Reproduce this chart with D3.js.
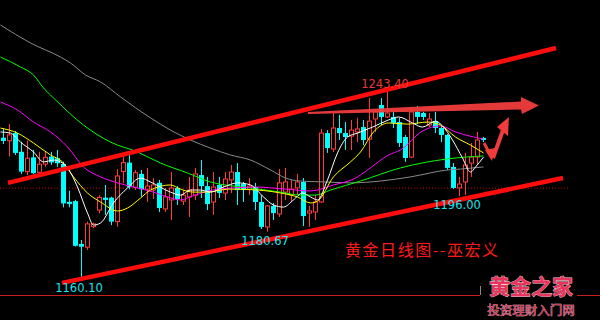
<!DOCTYPE html>
<html><head><meta charset="utf-8">
<script src="https://cdn.jsdelivr.net/npm/d3@7"></script>
<style>html,body{margin:0;padding:0;background:#000;overflow:hidden}</style>
</head><body><svg id="c" width="600" height="320"></svg>
<script>
// ---- Daily gold candles (index 0..80) ----
const opens  = [1221.4,1220.1,1223.4,1215.3,1206.7,1212.9,1206.4,1210.0,1213.2,1212.5,
  1210.0,1193.6,1193.9,1175.3,1173.9,1182.8,1190.0,1195.4,1195.4,1185.0,
  1206.7,1210.6,1199.9,1205.7,1199.1,1198.7,1201.8,1190.5,1194.4,1199.6,
  1193.9,1195.7,1196.5,1205.2,1200.4,1193.5,1200.9,1197.4,1203.1,1206.5,
  1201.3,1199.1,1200.0,1193.5,1182.7,1191.8,1188.3,1197.8,1196.5,1199.6,
  1202.2,1188.7,1189.2,1193.5,1223.4,1216.5,1225.6,1223.4,1222.1,1223.9,
  1226.0,1220.8,1229.5,1235.6,1230.4,1230.4,1228.2,1221.7,1213.0,1232.6,
  1232.1,1226.9,1228.6,1225.6,1222.6,1208.7,1199.6,1202.2,1210.4,1213.0,1221.3];
const highs  = [1225.2,1227.3,1224.3,1219.7,1220.1,1216.1,1215.3,1215.3,1215.3,1216.1,
  1211.0,1198.4,1194.4,1177.0,1185.0,1184.5,1196.5,1200.9,1195.8,1207.7,
  1213.9,1213.9,1207.4,1207.4,1208.3,1203.9,1203.1,1199.6,1206.5,1200.4,
  1198.7,1204.4,1208.3,1211.7,1204.4,1206.5,1204.4,1206.5,1209.6,1210.4,
  1202.2,1203.9,1201.8,1196.5,1192.2,1193.1,1207.8,1208.3,1203.1,1205.7,
  1203.9,1191.8,1196.5,1225.2,1224.7,1232.1,1231.3,1228.2,1229.1,1230.0,
  1229.1,1238.6,1233.4,1238.6,1243.4,1232.6,1230.0,1222.6,1234.7,1235.2,
  1232.6,1232.1,1232.6,1226.5,1223.0,1210.4,1204.4,1214.8,1219.1,1223.9,1221.7];
const lows   = [1218.7,1213.2,1213.9,1205.7,1205.2,1205.7,1205.2,1208.8,1209.6,1208.8,
  1191.2,1191.2,1174.2,1160.1,1172.7,1182.1,1188.6,1187.9,1183.5,1182.8,
  1201.6,1199.0,1198.7,1195.8,1193.5,1194.8,1189.2,1189.2,1185.7,1192.2,
  1192.2,1187.0,1194.4,1195.2,1190.0,1187.9,1195.2,1194.4,1197.4,1192.2,
  1193.5,1196.5,1190.0,1181.8,1180.67,1185.7,1187.0,1194.4,1193.5,1196.5,
  1183.1,1182.7,1185.7,1193.1,1214.8,1215.2,1220.4,1216.1,1216.1,1219.5,
  1218.2,1212.6,1223.9,1226.9,1230.0,1225.6,1217.4,1210.9,1212.6,1227.3,
  1229.1,1226.0,1223.4,1219.5,1207.4,1199.2,1196.0,1196.5,1204.4,1209.6,1219.5];
const closes = [1220.0,1222.6,1214.8,1206.7,1212.5,1206.0,1209.9,1212.9,1210.7,1210.3,
  1192.9,1192.6,1174.5,1174.1,1184.0,1184.0,1195.5,1194.4,1185.0,1204.8,
  1210.6,1199.9,1206.2,1199.0,1200.4,1200.9,1190.9,1195.7,1199.6,1194.8,
  1196.5,1198.7,1205.7,1200.4,1192.6,1200.0,1197.4,1203.5,1206.5,1198.7,
  1198.7,1200.4,1193.5,1182.7,1191.8,1188.7,1201.8,1202.2,1199.1,1202.2,
  1187.4,1189.6,1193.5,1223.4,1216.9,1225.6,1223.4,1221.7,1224.7,1225.2,
  1220.4,1228.6,1232.6,1230.4,1232.1,1227.8,1219.1,1212.6,1232.6,1230.4,
  1230.4,1229.5,1225.6,1222.6,1208.3,1199.6,1201.3,1209.6,1213.0,1220.4,1220.4];

// ---- moving averages: [candle index, price] ----
const maWhite = [[-0.5,1223.9],[1.17,1223.4],[2.83,1219.5],[5,1215.2],[6.67,1210.9],[8.33,1211.7],[9.5,1210.9],
  [10.67,1208.3],[12.33,1200.0],[14,1188.7],[15,1183.5],[16.17,1184.4],[18.33,1193.1],[20.67,1199.6],
  [22.83,1203.9],[24.5,1202.2],[27.83,1197.8],[29.5,1196.5],[31.17,1198.7],[32.83,1198.7],[34.5,1197.8],
  [36.67,1200.0],[39,1201.8],[41.17,1200.9],[43.33,1195.7],[45,1192.2],[46.67,1191.3],[48.33,1194.4],
  [49.83,1197.4],[51.17,1195.7],[52.33,1194.4],[54,1203.1],[55.67,1214.8],[57.33,1221.7],[59,1223.4],
  [61.5,1226.0],[64.17,1229.1],[65.83,1230.4],[68.17,1227.8],[69.83,1226.0],[72,1228.6],[73.17,1226.5],
  [74.83,1220.4],[76.5,1212.6],[77.83,1206.5],[78.67,1208.7],[80,1213.0]];
const maYellow = [[-0.5,1225.6],[2.33,1223.4],[5,1219.1],[7.83,1213.9],[9.83,1210.9],[11.67,1204.4],[14,1197.4],
  [16.17,1193.5],[19,1189.6],[20.67,1190.9],[22.83,1195.2],[24.5,1198.7],[27.83,1200.9],[29.5,1199.1],
  [31.67,1197.8],[34,1197.8],[37.5,1199.1],[42.33,1198.7],[46.17,1197.4],[49,1195.7],[51.17,1193.1],
  [52.33,1193.9],[55,1204.4],[57.83,1210.9],[59.5,1215.2],[61.67,1223.9],[64.17,1227.8],[67.33,1227.3],
  [70.67,1228.2],[72.83,1226.9],[75.33,1221.7],[77.83,1218.2],[80,1214.8]];
const maMagenta = [[-0.5,1236.9],[2.33,1233.4],[5,1228.2],[7.83,1223.9],[10.67,1217.4],[13.33,1208.7],
  [16.17,1204.4],[19,1201.8],[21.67,1200.0],[25,1197.8],[27.33,1195.7],[29.5,1194.4],[31.5,1196.1],
  [34.83,1198.7],[38.17,1199.6],[42,1200.0],[47,1199.1],[51.17,1198.3],[55,1200.9],[58.67,1203.9],
  [60.67,1207.4],[64.17,1213.9],[66.17,1216.1],[69.83,1224.3],[72.83,1226.5],[75.33,1223.9],[80,1220.8]];
const maGreen = [[-0.5,1256.4],[2.83,1252.1],[5,1248.6],[6.67,1243.0],[8.67,1237.8],[13.33,1226.9],
  [17.83,1219.5],[22.33,1215.2],[26.17,1210.4],[30.67,1206.1],[34.5,1202.2],[41.17,1199.6],[46.17,1197.8],
  [49.5,1196.5],[52,1196.5],[54.5,1198.7],[59.5,1202.6],[66.17,1208.3],[74,1212.2],[80,1213.5]];
const maGray = [[-0.5,1270.3],[4.5,1262.5],[9.5,1256.4],[11.17,1253.8],[13.67,1248.6],[16.17,1245.6],
  [19.5,1239.1],[24.5,1230.0],[27.83,1224.7],[31.17,1220.4],[34.5,1216.9],[37.83,1213.9],[41.17,1211.7],
  [44.5,1207.4],[47,1203.9],[49.5,1202.6],[53.67,1202.2],[57.83,1201.8],[62.83,1202.6],[67.83,1204.4],
  [74,1207.4],[76.17,1207.8],[80,1208.7]];

// ---- annotations (candle index, price) ----
const refLevel = 1199.5;
const trendUpper = [[0.83,1201.8],[92.17,1260.3]];
const trendLower = [[9.83,1158.4],[93.33,1203.9]];
const flatArrow = [[50.83,1232.6],[86.33,1237.1],[86.33,1239.1],[89.33,1235.4],[86.5,1231.7],[86.33,1233.6],[50.83,1231.7]];
const downStem = [[80.17,1219.1],[81.33,1213.5]];
const downHead = [[80.33,1216.1],[82,1216.9],[81.5,1211.3]];
const upStem = [[81.67,1212.6],[83.33,1224.7]];
const upHead = [[82.33,1226.0],[84.33,1230.4],[84.17,1222.1]];
const extremes = [{i:64, v:1243.4, t:"1243.40", kind:"high"},
                  {i:13, v:1160.1, t:"1160.10", kind:"low"},
                  {i:44, v:1180.67, t:"1180.67", kind:"low"},
                  {i:76, v:1196.0, t:"1196.00", kind:"low"}];
const title = "黄金日线图--巫宏义";
const logoMain = "黄金之家", logoSub = "投资理财入门网";

const candles = opens.map((o,i)=>({i, o, h:highs[i], l:lows[i], c:closes[i]}));

const svg = d3.select('#c');
svg.append('rect').attr('width',600).attr('height',320).attr('fill','#000');
const x = d3.scaleLinear().domain([0,80]).range([3,483]);
const y = d3.scaleLinear().domain([1160.1,1243.4]).range([279,87]);

const UP = '#ff3c3c', DOWN = '#00ffff';

// reference dotted line
svg.append('line').attr('x1',0).attr('x2',x(94.5)).attr('y1',y(refLevel)).attr('y2',y(refLevel))
  .attr('stroke','#c00000').attr('stroke-width',1).attr('stroke-dasharray','1,2');

// candles
const g = svg.append('g');
const cg = g.selectAll('g').data(candles).join('g');
cg.append('line')
  .attr('x1',d=>Math.round(x(d.i))+0.5).attr('x2',d=>Math.round(x(d.i))+0.5)
  .attr('y1',d=>y(d.h)).attr('y2',d=>y(d.l))
  .attr('stroke',d=>d.c>=d.o?UP:DOWN).attr('stroke-width',1);
cg.filter(d=>d.c<d.o).append('rect')
  .attr('x',d=>Math.round(x(d.i))-2).attr('width',5)
  .attr('y',d=>y(d.o)).attr('height',d=>Math.max(1,y(d.c)-y(d.o)))
  .attr('fill',DOWN);
cg.filter(d=>d.c>=d.o).append('rect')
  .attr('x',d=>Math.round(x(d.i))-1.5).attr('width',4)
  .attr('y',d=>y(d.c)).attr('height',d=>Math.max(1,y(d.o)-y(d.c)))
  .attr('fill','#000').attr('stroke',UP).attr('stroke-width',1);

// moving averages
const line = d3.line().x(d=>x(d[0])+0.5).y(d=>y(d[1])).curve(d3.curveMonotoneX);
[[maGray,'#8a8a8a'],[maGreen,'#00ff00'],[maMagenta,'#ff00ff'],[maYellow,'#ffff00'],[maWhite,'#ffffff']]
  .forEach(([arr,col])=>{
    svg.append('path').attr('d',line(arr)).attr('fill','none').attr('stroke',col).attr('stroke-width',1);
  });

// channel lines
const straight = d3.line().x(d=>x(d[0])).y(d=>y(d[1]));
[trendUpper,trendLower].forEach(t=>{
  svg.append('path').attr('d',straight(t)).attr('stroke','#ff0d0d').attr('stroke-width',4.5).attr('fill','none');
});

// arrows
const poly = pts => pts.map(p=>[x(p[0]),y(p[1])].join(',')).join(' ');
svg.append('polygon').attr('points',poly(flatArrow)).attr('fill','#f03c3c').attr('opacity',0.95);
svg.append('path').attr('d',straight(downStem)).attr('stroke','#f03c3c').attr('stroke-width',3);
svg.append('polygon').attr('points',poly(downHead)).attr('fill','#f03c3c');
svg.append('path').attr('d',straight(upStem)).attr('stroke','#f03c3c').attr('stroke-width',4);
svg.append('polygon').attr('points',poly(upHead)).attr('fill','#f03c3c');

// extreme labels
svg.selectAll('text.ext').data(extremes).join('text').attr('class','ext')
  .attr('x',d=>x(d.i)-2).attr('y',d=>d.kind==='high'? y(d.v)+1 : y(d.v)+13)
  .attr('text-anchor','middle').attr('font-family','DejaVu Sans').attr('font-size',11.5)
  .attr('fill',d=>d.kind==='high'?'#e83a3a':'#1ee4ec').text(d=>d.t);

// title
svg.append('text').attr('x',345).attr('y',256).attr('textLength',153).attr('lengthAdjust','spacing')
  .attr('font-family','Noto Sans CJK SC').attr('font-size',16).attr('fill','#ff1a1a').text(title);

// bottom frame line
svg.append('line').attr('x1',0).attr('x2',480).attr('y1',295.5).attr('y2',295.5).attr('stroke','#c81e1e');
svg.append('line').attr('x1',577).attr('x2',600).attr('y1',295.5).attr('y2',295.5).attr('stroke','#c81e1e');
svg.append('line').attr('x1',480.5).attr('x2',480.5).attr('y1',286).attr('y2',295).attr('stroke','#888');

// logo
svg.append('text').attr('x',531).attr('y',294).attr('text-anchor','middle')
  .attr('font-family','Noto Sans CJK SC').attr('font-weight','bold').attr('font-size',21)
  .attr('fill','#e8345c').attr('stroke','#f4d0d8').attr('stroke-width',0.8).attr('paint-order','stroke').text(logoMain);
svg.append('text').attr('x',531).attr('y',315).attr('text-anchor','middle')
  .attr('font-family','Noto Sans CJK SC').attr('font-size',12.5)
  .attr('fill','#d43a60').attr('stroke','#f0c8d0').attr('stroke-width',0.5).attr('paint-order','stroke').text(logoSub);
</script></body></html>
